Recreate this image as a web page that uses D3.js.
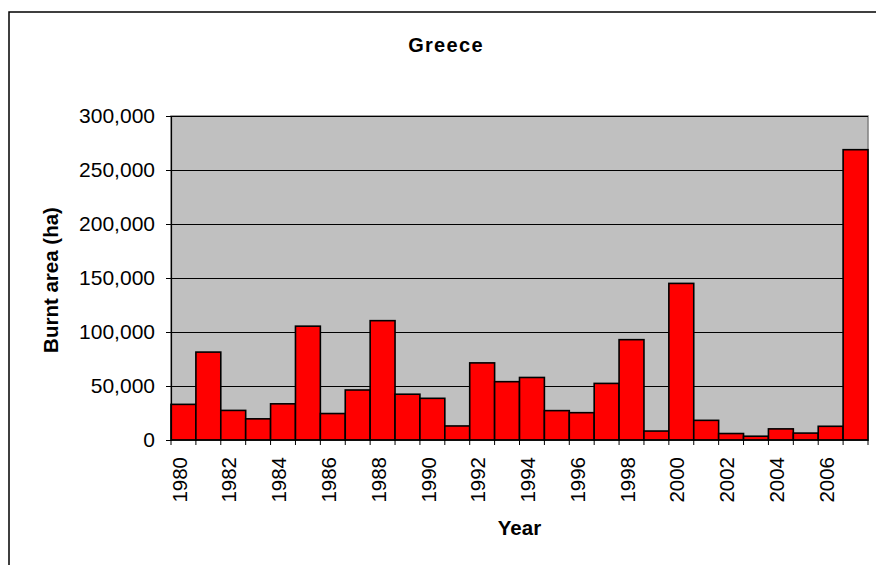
<!DOCTYPE html>
<html><head><meta charset="utf-8">
<script src="https://cdn.jsdelivr.net/npm/d3@7"></script>
<style>body{margin:0;background:#fff}svg{display:block}text{font-family:Arial,"Liberation Sans",sans-serif}</style>
</head><body><svg id="c" width="876" height="565"></svg>
<script>
const years = ["1980","1981","1982","1983","1984","1985","1986","1987","1988","1989","1990","1991","1992","1993","1994","1995","1996","1997","1998","1999","2000","2001","2002","2003","2004","2005","2006","2007"];
const burnt = [33000,81400,27400,19600,33500,105400,24500,46300,110500,42400,38600,13000,71400,54000,57900,27200,25300,52400,92900,8300,145000,18200,6000,3500,10300,6400,12700,268800];
const yTicks = [0,50000,100000,150000,200000,250000,300000];
const labelYears = years.filter((d,i)=>i%2===0);

const svg = d3.select("#c");
const L=171, R=868, T=116, B=440;
svg.append("rect").attr("x",9).attr("y",12).attr("width",900).attr("height",600)
  .attr("fill","#fff").attr("stroke","#000").attr("stroke-width",1.5);

const x = d3.scaleBand().domain(years).range([L,R]).padding(0);
const y = d3.scaleLinear().domain([0,300000]).range([B,T]);

svg.append("rect").attr("x",L).attr("y",T).attr("width",R-L).attr("height",B-T)
  .attr("fill","#c0c0c0").attr("stroke","#808080").attr("stroke-width",1.5);

svg.append("g").selectAll("line").data(yTicks.filter(d=>d>0)).join("line")
  .attr("x1",L).attr("x2",R).attr("y1",d=>Math.round(y(d))+0.5).attr("y2",d=>Math.round(y(d))+0.5)
  .attr("stroke","#000").attr("stroke-width",1);

svg.append("g").selectAll("rect").data(years).join("rect")
  .attr("x",d=>x(d)).attr("width",x.bandwidth())
  .attr("y",(d,i)=>y(burnt[i])).attr("height",(d,i)=>B-y(burnt[i]))
  .attr("fill","#ff0000").attr("stroke","#000").attr("stroke-width",1.6);

// y axis
const ya = svg.append("g").attr("transform",`translate(${L},0)`)
  .call(d3.axisLeft(y).tickValues(yTicks).tickFormat(d3.format(",")).tickSizeOuter(0).tickSize(5).tickPadding(11));
ya.select(".domain").attr("stroke","#000").attr("stroke-width",1.2);
ya.selectAll(".tick line").attr("stroke","#000");
ya.selectAll("text").attr("font-size",21).attr("fill","#000").style("font-family","Arial, 'Liberation Sans', sans-serif");

// x axis: ticks at band boundaries
const xb = svg.append("g");
xb.append("line").attr("x1",L).attr("x2",R).attr("y1",B).attr("y2",B).attr("stroke","#000").attr("stroke-width",1.2);
xb.selectAll("line.t").data(years.concat(["end"])).join("line").attr("class","t")
  .attr("x1",(d,i)=>i<years.length?x(d):R).attr("x2",(d,i)=>i<years.length?x(d):R)
  .attr("y1",B).attr("y2",B+5).attr("stroke","#000");
xb.selectAll("text").data(labelYears).join("text")
  .attr("transform",d=>`translate(${x(d)+x.bandwidth()/2-4},${B+17}) rotate(-90)`)
  .attr("text-anchor","end").attr("dy","0.35em").attr("font-size",20.5).text(d=>d);

svg.append("text").attr("x",446).attr("y",52).attr("text-anchor","middle")
  .attr("font-size",20).attr("font-weight","bold").attr("letter-spacing","1.3px").text("Greece");
svg.append("text").attr("x",(L+R)/2).attr("y",535).attr("text-anchor","middle")
  .attr("font-size",20.5).attr("font-weight","bold").text("Year");
svg.append("text").attr("transform",`translate(58,${(T+B)/2+2}) rotate(-90)`).attr("text-anchor","middle")
  .attr("font-size",20.5).attr("font-weight","bold").text("Burnt area (ha)");
</script></body></html>
